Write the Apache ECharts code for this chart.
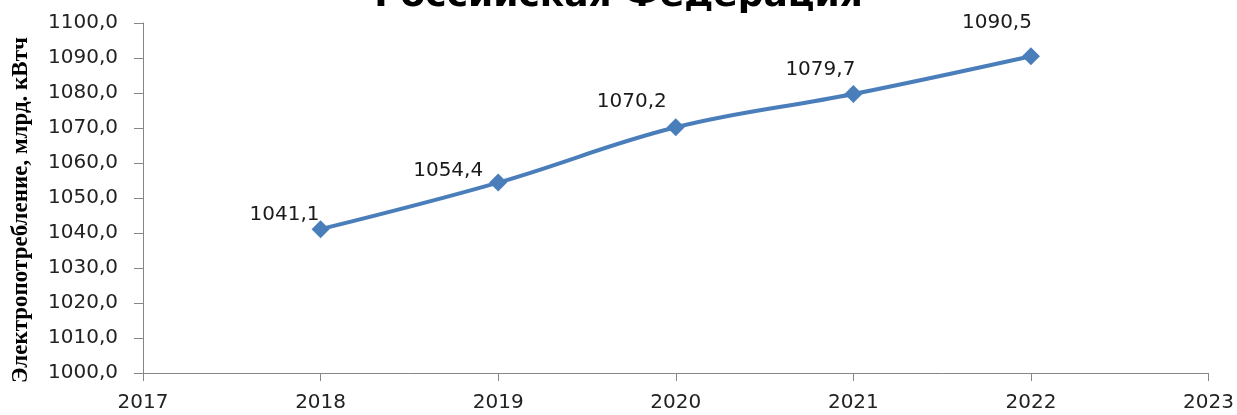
<!DOCTYPE html>
<html>
<head>
<meta charset="utf-8">
<script src="https://cdn.jsdelivr.net/npm/echarts@6/dist/echarts.min.js"></script>
<style>
  html, body { margin: 0; padding: 0; background: #fff; }
  #chart { width: 1237px; height: 415px; }
</style>
</head>
<body>
<div id="chart"></div>
<script>
// данные
const years = [2018, 2019, 2020, 2021, 2022]
const consumption = [1041.1, 1054.4, 1070.2, 1079.7, 1090.5]
const yMin = 1000
const yMax = 1100
const yStep = 10
const xMin = 2017
const xMax = 2023

// смещение подписей относительно точек (как в исходной диаграмме)
const labelOffsets = [[-36, -14], [-50, -12], [-44, -26], [-33, -24], [-34, -33]]

const fmt = (v) => v.toFixed(1).replace('.', ',')

const chart = echarts.init(document.getElementById('chart'))
chart.setOption({
  backgroundColor: '#fff',
  animation: false,
  title: {
    text: 'Российская Федерация',
    left: 'center',
    top: -26,
    textStyle: { fontFamily: 'DejaVu Sans', fontWeight: 'bold', fontSize: 36, color: '#000' },
  },
  grid: { left: 143, right: 28, top: 23, bottom: 42 },
  xAxis: {
    type: 'value',
    min: xMin,
    max: xMax,
    interval: 1,
    axisLine: { lineStyle: { color: '#868686', width: 1 } },
    axisTick: { show: true, length: 8, lineStyle: { color: '#868686' } },
    splitLine: { show: false },
    axisLabel: { color: '#222', fontSize: 20, fontFamily: 'DejaVu Sans', margin: 20, formatter: (v) => String(v) },
  },
  yAxis: {
    type: 'value',
    min: yMin,
    max: yMax,
    interval: yStep,
    name: 'Электропотребление, млрд. кВтч',
    nameLocation: 'middle',
    nameGap: 110,
    nameTextStyle: { fontFamily: 'Liberation Serif', fontWeight: 'bold', fontSize: 23, color: '#000', padding: [0, 24, 0, 0] },
    axisLine: { show: true, lineStyle: { color: '#868686', width: 1 } },
    axisTick: { show: true, length: 9, lineStyle: { color: '#868686' } },
    splitLine: { show: false },
    axisLabel: { color: '#222', fontSize: 20, fontFamily: 'DejaVu Sans', margin: 25, formatter: fmt },
  },
  series: [
    {
      type: 'line',
      smooth: 0.38,
      data: years.map((y, i) => ({
        value: [y, consumption[i]],
        label: { offset: labelOffsets[i] },
      })),
      symbol: 'diamond',
      symbolSize: 18,
      itemStyle: { color: '#4A7EBB' },
      lineStyle: { color: '#4A7EBB', width: 4 },
      label: {
        show: true,
        position: 'inside',
        color: '#1a1a1a',
        fontSize: 20,
        fontFamily: 'DejaVu Sans',
        formatter: (p) => fmt(p.value[1]),
      },
    },
  ],
})
</script>
</body>
</html>
